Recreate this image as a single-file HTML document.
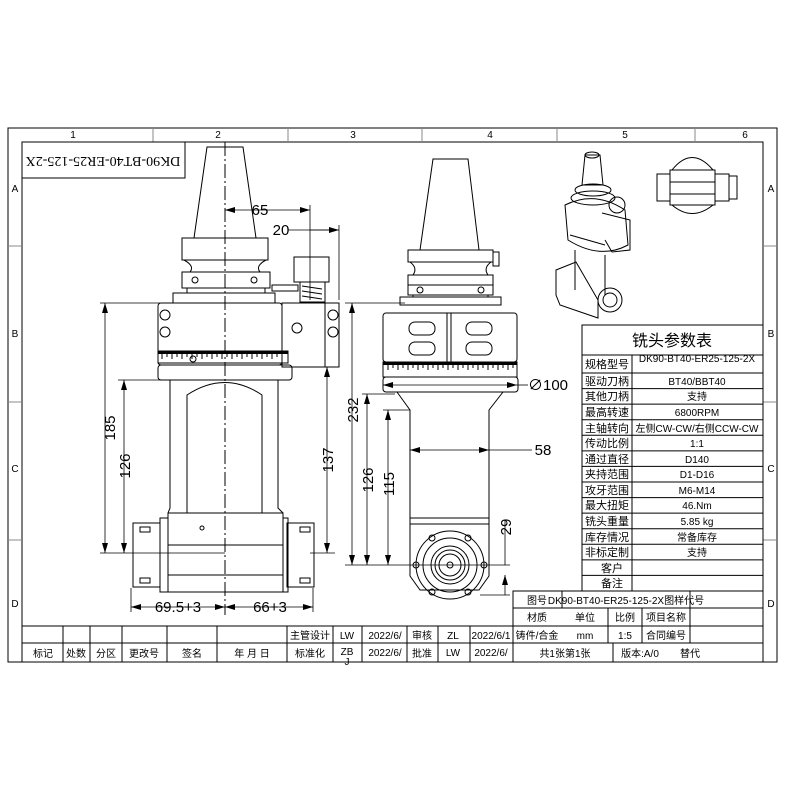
<!DOCTYPE html>
<html><head><meta charset="utf-8"><style>
html,body{margin:0;padding:0;background:#fff}
svg{display:block}
text{font-family:"Liberation Sans","Noto Sans CJK SC",sans-serif;fill:#000}
.s{font-family:"Liberation Serif","Noto Serif CJK SC","Noto Sans CJK SC",serif}
</style></head><body>
<svg width="800" height="800" viewBox="0 0 800 800" xmlns="http://www.w3.org/2000/svg">
<defs>
<marker id="a" viewBox="0 0 10 6" refX="10" refY="3" markerWidth="10" markerHeight="6" orient="auto-start-reverse" markerUnits="userSpaceOnUse"><path d="M0,0L10,3L0,6z" fill="#000"/></marker>
</defs>
<g fill="none" stroke="#000" stroke-width="1">
<rect x="8" y="128" width="769" height="534"/>
<rect x="22" y="142" width="741" height="520"/>
<g stroke="#888"><line x1="153" y1="128" x2="153" y2="142"/><line x1="288" y1="128" x2="288" y2="142"/><line x1="422" y1="128" x2="422" y2="142"/><line x1="557" y1="128" x2="557" y2="142"/><line x1="695" y1="128" x2="695" y2="142"/>
<line x1="8" y1="246" x2="22" y2="246"/><line x1="8" y1="402" x2="22" y2="402"/><line x1="8" y1="540" x2="22" y2="540"/>
<line x1="763" y1="246" x2="777" y2="246"/><line x1="763" y1="402" x2="777" y2="402"/><line x1="763" y1="540" x2="777" y2="540"/></g>
<rect x="22" y="142" width="163" height="36"/>

<!-- LEFT VIEW -->
<line x1="225" y1="142" x2="225" y2="615" stroke-dasharray="14,3,2,3"/>
<path d="M207,147 L243,147 L256,238 L194,238 Z"/>
<rect x="182" y="238" width="86" height="22"/>
<path d="M184,260 Q195,266 190,272 M266,260 Q255,266 260,272"/>
<rect x="182" y="272" width="88" height="16"/>
<circle cx="195" cy="280" r="3"/><circle cx="254" cy="280" r="3"/>
<rect x="187" y="288" width="78" height="5"/>
<rect x="173" y="293" width="102" height="10"/>
<rect x="158" y="303" width="124" height="62" rx="3"/>
<rect x="282" y="303" width="57" height="64"/>
<line x1="325" y1="303" x2="325" y2="367"/>
<rect x="294" y="257" width="35" height="25"/>
<rect x="300" y="282" width="25" height="20"/>
<path d="M302,286 l20,3 M302,291 l20,3 M302,296 l20,3"/>
<rect x="272" y="285" width="26" height="6"/>
<circle cx="297" cy="328" r="5"/>
<circle cx="165" cy="315" r="5"/><circle cx="165" cy="332" r="5"/>
<circle cx="333" cy="315" r="5"/><circle cx="333" cy="332" r="5"/>
<rect x="158" y="351" width="130" height="12"/>
<line x1="158" y1="352.5" x2="288" y2="352.5" stroke-width="3"/>
<path d="M162,353v6M167,353v4M172,353v6M177,353v4M182,353v6M187,353v4M192,353v6M197,353v4M202,353v6M207,353v4M212,353v6M217,353v4M222,353v6M227,353v4M232,353v6M237,353v4M242,353v6M247,353v4M252,353v6M257,353v4M262,353v6M267,353v4M272,353v6M277,353v4M282,353v6"/>
<circle cx="193" cy="359" r="3"/>
<rect x="158" y="365" width="134" height="15" rx="3"/>
<path d="M170,380 V508 L168,513 M278,380 V508 L283,513"/>
<path d="M187,513 L187,395 Q225,370 262,395 L262,513"/>
<rect x="168" y="513" width="115" height="79"/>
<line x1="168" y1="545" x2="283" y2="545"/><line x1="168" y1="575" x2="283" y2="575"/>
<circle cx="202" cy="528" r="2"/>
<rect x="133" y="523" width="27" height="64"/><rect x="160" y="518" width="8" height="74"/>
<rect x="287" y="523" width="27" height="64"/><rect x="283" y="518" width="5" height="74"/>
<path d="M140,527h10v5h-10zM140,578h10v5h-10zM300,527h10v5h-10zM300,578h10v5h-10z"/>
<g stroke-width="0.8">
<line x1="100" y1="303" x2="160" y2="303"/><line x1="100" y1="553" x2="225" y2="553"/>
<line x1="105" y1="303" x2="105" y2="553" marker-start="url(#a)" marker-end="url(#a)"/>
<line x1="118" y1="380" x2="170" y2="380"/>
<line x1="124" y1="380" x2="124" y2="553" marker-start="url(#a)" marker-end="url(#a)"/>
<line x1="327" y1="367" x2="327" y2="553" marker-start="url(#a)" marker-end="url(#a)"/>
<line x1="310" y1="553" x2="335" y2="553"/>
<line x1="225" y1="210" x2="310" y2="210" marker-start="url(#a)" marker-end="url(#a)"/>
<line x1="310" y1="205" x2="310" y2="300"/><line x1="339" y1="225" x2="339" y2="300"/>
<line x1="288" y1="230" x2="339" y2="230"/><line x1="310" y1="230" x2="339" y2="230" marker-end="url(#a)"/>
<line x1="131" y1="588" x2="131" y2="612"/><line x1="313" y1="588" x2="313" y2="612"/>
<line x1="131" y1="607" x2="225" y2="607" marker-start="url(#a)" marker-end="url(#a)"/>
<line x1="225" y1="607" x2="313" y2="607" marker-start="url(#a)" marker-end="url(#a)"/>
</g>

<!-- MIDDLE VIEW -->
<path d="M433,159 L468,159 L479,250 L420,250 Z"/>
<rect x="408" y="250" width="85" height="12"/><rect x="493" y="252" width="6" height="14"/>
<path d="M410,262 Q418,268 413,275 M491,262 Q483,268 488,275"/>
<rect x="408" y="275" width="85" height="20"/>
<line x1="408" y1="285" x2="493" y2="285"/>
<circle cx="420" cy="290" r="3"/><circle cx="481" cy="290" r="3"/>
<rect x="413" y="295" width="75" height="2"/>
<rect x="400" y="297" width="101" height="8"/>
<rect x="383" y="313" width="134" height="49" rx="3"/>
<line x1="447" y1="313" x2="447" y2="362"/><line x1="451" y1="313" x2="451" y2="362"/>
<rect x="409" y="322" width="26" height="13" rx="6"/><rect x="409" y="342" width="26" height="13" rx="6"/>
<rect x="466" y="322" width="26" height="13" rx="6"/><rect x="466" y="342" width="26" height="13" rx="6"/>
<rect x="383" y="362" width="134" height="15"/>
<line x1="383" y1="363.5" x2="517" y2="363.5" stroke-width="3"/>
<path d="M388,364v6M393,364v4M398,364v6M403,364v4M408,364v6M413,364v4M418,364v6M423,364v4M428,364v6M433,364v4M438,364v6M443,364v4M448,364v6M453,364v4M458,364v6M463,364v4M468,364v6M473,364v4M478,364v6M483,364v4M488,364v6M493,364v4M498,364v6M503,364v4M508,364v6M513,364v4"/>
<rect x="383" y="377" width="135" height="15" rx="3"/>
<path d="M397,392 L410,410 V518 M503,392 L489,410 V518"/>
<path d="M410,518 H489 V576 L479,590 H420 L410,576 Z"/>
<line x1="410" y1="524" x2="489" y2="524"/>
<circle cx="450" cy="565" r="34"/><circle cx="450" cy="565" r="27"/><circle cx="450" cy="565" r="19"/><circle cx="450" cy="565" r="15"/><circle cx="450" cy="565" r="11"/><circle cx="450" cy="565" r="3"/>
<circle cx="416" cy="565" r="3"/><circle cx="484" cy="565" r="3"/><circle cx="432" cy="538" r="3"/><circle cx="468" cy="538" r="3"/><circle cx="432" cy="592" r="3"/><circle cx="468" cy="592" r="3"/>
<g stroke-width="0.8">
<line x1="383" y1="385" x2="517" y2="385" marker-start="url(#a)" marker-end="url(#a)"/>
<line x1="517" y1="385" x2="528" y2="385"/>
<line x1="345" y1="303" x2="405" y2="303"/>
<line x1="352" y1="303" x2="352" y2="565" marker-start="url(#a)" marker-end="url(#a)"/>
<line x1="362" y1="394" x2="395" y2="394"/>
<line x1="367" y1="394" x2="367" y2="565" marker-start="url(#a)" marker-end="url(#a)"/>
<line x1="383" y1="410" x2="410" y2="410"/>
<line x1="388" y1="410" x2="388" y2="565" marker-start="url(#a)" marker-end="url(#a)"/>
<line x1="345" y1="565" x2="510" y2="565"/>
<line x1="410" y1="450" x2="489" y2="450" marker-start="url(#a)" marker-end="url(#a)"/>
<line x1="489" y1="450" x2="532" y2="450"/>
<line x1="505" y1="520" x2="505" y2="565"/>
<line x1="505" y1="575" x2="505" y2="595" marker-start="url(#a)"/>
<line x1="480" y1="595" x2="510" y2="595"/>
</g>

<!-- 3D iso view (simplified) -->
<path d="M585,155 L600,155 L603,185 L582,185 Z"/>
<ellipse cx="592" cy="155" rx="7" ry="3"/>
<ellipse cx="593" cy="190" rx="18" ry="6"/><ellipse cx="593" cy="198" rx="22" ry="7"/>
<path d="M565,205 Q595,190 625,210 L628,245 Q600,260 568,240 Z"/>
<path d="M602,213 L630,220 L630,250 L612,252 L605,240"/>
<circle cx="617" cy="205" r="8"/>
<path d="M570,235 L605,245 M575,250 L575,290 M605,255 L605,295"/>
<path d="M556,270 L576,262 L598,300 L598,318 L560,305 L556,295 Z"/>
<circle cx="610" cy="300" r="12"/><circle cx="610" cy="300" r="7"/>
<rect x="670" y="170" width="45" height="35"/>
<line x1="670" y1="182" x2="715" y2="182"/><line x1="670" y1="194" x2="715" y2="194"/>
<path d="M672,170 Q692,145 713,170 M672,205 Q692,222 713,205"/>
<rect x="657" y="174" width="13" height="27"/><rect x="715" y="174" width="14" height="27"/><path d="M729,176 h8 v23 h-8"/>

<!-- parameter table -->
<rect x="582" y="325" width="181" height="266"/>
<line x1="582" y1="355" x2="763" y2="355"/>
<line x1="632" y1="355" x2="632" y2="591"/>
<path d="M582,373H763M582,388.6H763M582,404.1H763M582,419.7H763M582,435.3H763M582,450.9H763M582,466.4H763M582,482H763M582,497.6H763M582,513.1H763M582,528.7H763M582,544.3H763M582,559.9H763M582,575.4H763"/>
<rect x="513" y="591" width="250" height="71"/>
<line x1="513" y1="608" x2="763" y2="608"/><line x1="513" y1="626" x2="763" y2="626"/><line x1="513" y1="643" x2="763" y2="643"/>
<line x1="562" y1="591" x2="562" y2="608"/><line x1="690" y1="591" x2="690" y2="626"/><line x1="690" y1="608" x2="690" y2="643"/>
<line x1="608" y1="608" x2="608" y2="643"/><line x1="642" y1="608" x2="642" y2="643"/><line x1="613" y1="643" x2="613" y2="662"/>
<line x1="22" y1="626" x2="513" y2="626"/><line x1="22" y1="643" x2="513" y2="643"/>
<path d="M63,626V662M90,626V662M122,626V662M167,626V662M217,626V662M287,626V662M333,626V662M362,626V662M407,626V662M438,626V662M470,626V662"/>
</g>

<g font-size="10" text-anchor="middle">
<text x="73" y="138">1</text><text x="218" y="138">2</text><text x="353" y="138">3</text><text x="490" y="138">4</text><text x="625" y="138">5</text><text x="745" y="138">6</text>
<text x="15" y="192">A</text><text x="15" y="337">B</text><text x="15" y="472">C</text><text x="15" y="607">D</text>
<text x="771" y="192">A</text><text x="771" y="337">B</text><text x="771" y="472">C</text><text x="771" y="607">D</text>
</g>
<text class="s" x="103" y="160" font-size="14" text-anchor="middle" dominant-baseline="middle" transform="rotate(180 103 160)">DK90-BT40-ER25-125-2X</text>
<g font-size="15">
<text x="260" y="215" text-anchor="middle">65</text>
<text x="281" y="235" text-anchor="middle">20</text>
<text x="115" y="428" transform="rotate(-90 115 428)" text-anchor="middle">185</text>
<text x="130" y="466" transform="rotate(-90 130 466)" text-anchor="middle">126</text>
<text x="333" y="460" transform="rotate(-90 333 460)" text-anchor="middle">137</text>
<text x="178" y="612" text-anchor="middle">69.5+3</text>
<text x="270" y="612" text-anchor="middle">66+3</text>
<text x="358" y="410" transform="rotate(-90 358 410)" text-anchor="middle">232</text>
<text x="373" y="480" transform="rotate(-90 373 480)" text-anchor="middle">126</text>
<text x="394" y="484" transform="rotate(-90 394 484)" text-anchor="middle">115</text>
<text x="543" y="455" text-anchor="middle">58</text>
<text x="511" y="527" transform="rotate(-90 511 527)" text-anchor="middle">29</text>
<text x="528" y="390">∅100</text>
</g>
<text x="672" y="346" font-size="16" text-anchor="middle">铣头参数表</text>
<g font-size="11" text-anchor="middle">
<text x="607" y="368">规格型号</text><text x="607" y="385">驱动刀柄</text><text x="607" y="400">其他刀柄</text><text x="607" y="416">最高转速</text><text x="607" y="432">主轴转向</text><text x="607" y="447">传动比例</text><text x="607" y="463">通过直径</text><text x="607" y="478">夹持范围</text><text x="607" y="494">攻牙范围</text><text x="607" y="509">最大扭矩</text><text x="607" y="525">铣头重量</text><text x="607" y="541">库存情况</text><text x="607" y="556">非标定制</text>
<text x="612" y="572">客户</text><text x="612" y="587">备注</text>
</g>
<g font-size="10" text-anchor="middle" class="s">
<text x="697" y="362">DK90-BT40-ER25-125-2X</text>
<text x="697" y="385">BT40/BBT40</text><text x="697" y="400">支持</text><text x="697" y="416">6800RPM</text>
<text x="697" y="432">左侧CW-CW/右侧CCW-CW</text><text x="697" y="447">1:1</text><text x="697" y="463">D140</text>
<text x="697" y="478">D1-D16</text><text x="697" y="494">M6-M14</text><text x="697" y="509">46.Nm</text>
<text x="697" y="525">5.85 kg</text><text x="697" y="541">常备库存</text><text x="697" y="556">支持</text>
</g>
<g font-size="10" text-anchor="middle">
<text x="537" y="604">图号</text><text x="626" y="604">DK90-BT40-ER25-125-2X图样代号</text>
<text x="537" y="621">材质</text><text x="585" y="621">单位</text><text x="625" y="621">比例</text><text x="666" y="621">项目名称</text>
<text x="537" y="639">铸件/合金</text><text x="585" y="639">mm</text><text x="625" y="639">1:5</text><text x="666" y="639">合同编号</text>
<text x="565" y="657">共1张第1张</text><text x="640" y="657">版本:A/0</text><text x="690" y="657">替代</text>
<text x="43" y="657">标记</text><text x="76" y="657">处数</text><text x="106" y="657">分区</text><text x="144" y="657">更改号</text><text x="192" y="657">签名</text><text x="252" y="657">年 月 日</text>
<text x="310" y="639">主管设计</text><text x="310" y="657">标准化</text>
<text x="347" y="639">LW</text><text x="347" y="655">ZB</text><text x="347" y="665">J</text>
<text x="385" y="639">2022/6/</text><text x="385" y="656">2022/6/</text>
<text x="422" y="639">审核</text><text x="422" y="657">批准</text>
<text x="453" y="639">ZL</text><text x="453" y="656">LW</text>
<text x="491" y="639">2022/6/1</text><text x="491" y="656">2022/6/</text>
</g>
</svg>
</body></html>
